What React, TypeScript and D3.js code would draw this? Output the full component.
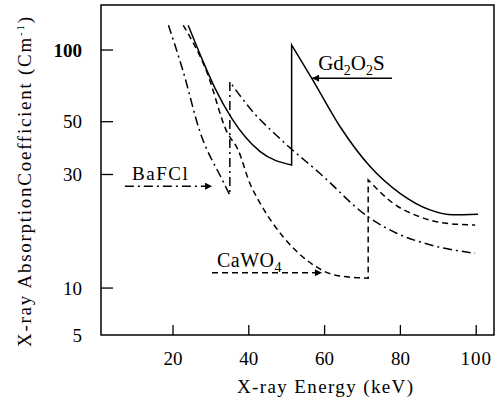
import React from "react";
import { scaleLinear, scaleLog, line, curveMonotoneX } from "d3";

// energies (keV) and absorption coefficients (cm-1), split at the K-edge
const gdE1 = [24.0, 28.0, 31.1, 35.5, 43.0, 51.3];
const gdV1 = [127, 89, 69, 51.6, 37.4, 32.9];
const gdE2 = [51.3, 56.9, 64.1, 72.0, 79.9, 87.8, 93.9, 100.5];
const gdV2 = [105, 74.8, 47.6, 32.4, 25.0, 21.3, 20.3, 20.4];

const caE1 = [22.7, 28.9, 34.2, 37.2, 40.3, 43.0, 49.1, 55.3, 63.2, 71.5];
const caV1 = [127, 81.1, 45.4, 38.0, 27.5, 22.7, 16.4, 13.1, 11.3, 11.0];
const caE2 = [71.5, 78.1, 85.2, 92.2, 99.7];
const caV2 = [28.5, 22.7, 19.9, 18.7, 18.4];

const baE1 = [18.8, 22.7, 27.1, 32.8, 35.0];
const baV1 = [127, 81.1, 45.4, 28.9, 24.6];
const baE2 = [35.0, 40.3, 49.1, 58.8, 71.5, 79.0, 87.8, 99.7];
const baV2 = [73.6, 56.9, 41.2, 30.3, 19.9, 17.0, 15.2, 14.0];

const xTicks = [20, 40, 60, 80, 100];
const yTicks = [5, 10, 30, 50, 100];

const FONT = "Liberation Serif";

const x = scaleLinear().domain([1, 104.7]).range([101, 494]);
const y = scaleLog().domain([6.35, 154.6]).range([335, 5]).clamp(true);

const lineGen = line<[number, number]>()
  .x((d) => x(d[0]))
  .y((d) => y(d[1]))
  .curve(curveMonotoneX);

const zip = (e: number[], v: number[]) => e.map((d, i) => [d, v[i]] as [number, number]);

// one path per material, vertical jump at the edge
const edgePath = (e1: number[], v1: number[], e2: number[], v2: number[]) =>
  lineGen(zip(e1, v1)) + lineGen(zip(e2, v2))!.replace(/^M/, "L");

const series = [
  { name: "Gd2O2S", d: edgePath(gdE1, gdV1, gdE2, gdV2), dash: "none" },
  { name: "CaWO4", d: edgePath(caE1, caV1, caE2, caV2), dash: "6,4" },
  { name: "BaFCl", d: edgePath(baE1, baV1, baE2, baV2), dash: "9,4,2,4" },
];

// annotation arrows: [fromE, toE, value]
const arrows = [
  { from: 7.3, to: 30.3, v: 26.8, dash: "9,4,2,4" },
  { from: 77.8, to: 56.7, v: 76.2, dash: "none" },
  { from: 30.3, to: 59.3, v: 11.6, dash: "6,4" },
];

export default function App() {
  const frame = { x0: x.range()[0], x1: x.range()[1], y0: y.range()[1], y1: y.range()[0] };
  const txt = { fontFamily: FONT };
  return (
    <svg width={498} height={403} style={{ position: "absolute", left: 0, top: 0, background: "#fff" }}>
      <defs>
        <marker id="ah" viewBox="0 0 10 10" refX="10" refY="5" markerWidth="10" markerHeight="7" markerUnits="userSpaceOnUse" orient="auto">
          <path d="M0,0 L10,5 L0,10 Z" fill="#000" />
        </marker>
      </defs>
      <rect x={frame.x0} y={frame.y0} width={frame.x1 - frame.x0} height={frame.y1 - frame.y0} fill="none" stroke="#000" strokeWidth={1.5} />

      {yTicks.map((t) => (
        <g key={t}>
          {t !== 5 && <line x1={frame.x0} x2={frame.x0 + 12} y1={y(t)} y2={y(t)} stroke="#000" strokeWidth={1.3} />}
          <text x={82} y={y(t)} dy="0.35em" textAnchor="end" style={txt} fontSize={19} fontWeight={t === 100 ? "bold" : "normal"}>
            {t}
          </text>
        </g>
      ))}

      {xTicks.map((t) => (
        <g key={t}>
          <line x1={x(t)} x2={x(t)} y1={frame.y1} y2={frame.y1 - 10} stroke="#000" strokeWidth={1.3} />
          <text x={x(t)} y={365} textAnchor="middle" style={txt} fontSize={19} letterSpacing={t === 100 ? 1 : 0}>
            {t}
          </text>
        </g>
      ))}

      {series.map((s) => (
        <path key={s.name} d={s.d} fill="none" stroke="#000" strokeWidth={1.5} strokeDasharray={s.dash} />
      ))}

      {arrows.map((a, i) => (
        <line key={i} x1={x(a.from)} x2={x(a.to)} y1={y(a.v)} y2={y(a.v)} stroke="#000" strokeWidth={1.5} strokeDasharray={a.dash} markerEnd="url(#ah)" />
      ))}

      <text x={x(9.2)} y={y(28.4)} style={txt} fontSize={19} letterSpacing={1.5}>BaFCl</text>
      <text x={x(58.3)} y={y(82.4)} style={txt} fontSize={21}>
        Gd<tspan fontSize={14} dy={5}>2</tspan><tspan dy={-5}>O</tspan><tspan fontSize={14} dy={5}>2</tspan><tspan dy={-5}>S</tspan>
      </text>
      <text x={x(31.6)} y={y(12.25)} style={txt} fontSize={20} letterSpacing={0.5}>
        CaWO<tspan fontSize={14} dy={5}>4</tspan>
      </text>

      <text x={325} y={393} textAnchor="middle" style={txt} fontSize={19} textLength={176} lengthAdjust="spacing">
        X-ray Energy (keV)
      </text>
      <text transform="translate(31,182) rotate(-90)" textAnchor="middle" style={txt} fontSize={19} textLength={330} lengthAdjust="spacing">
        X-ray AbsorptionCoefficient (Cm<tspan fontSize={11} dy={-7}>-1</tspan><tspan dy={7}>)</tspan>
      </text>
    </svg>
  );
}
